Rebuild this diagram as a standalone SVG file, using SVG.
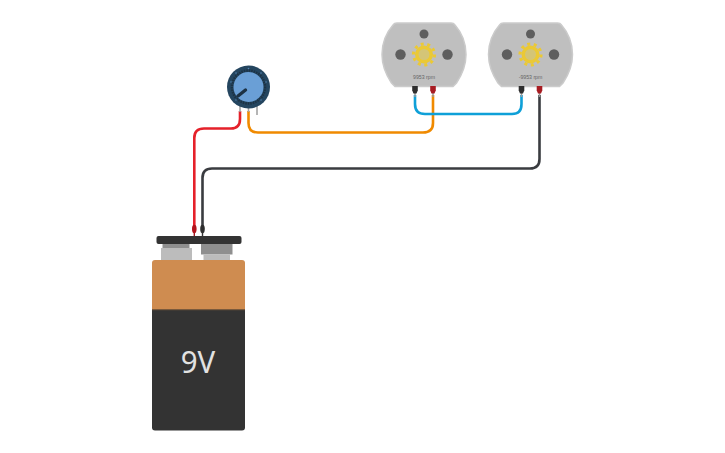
<svg xmlns="http://www.w3.org/2000/svg" width="725" height="453" viewBox="0 0 725 453">
<defs>
<style>
.w{fill:none;stroke-width:2.600;stroke-linejoin:round}
.rpm{font-family:"Liberation Sans",Arial,sans-serif;font-size:5.200px;fill:#666;text-anchor:middle}
</style>
<g id="motorShape">
<path d="M15 1.500H69C71 1.500 72 2 73 3.500C79.500 11 84 21 84 33C84 45 79.500 54 74.500 61.500L71 65H13L9.500 61.500C4.500 54 0 45 0 33C0 21 4.500 11 11 3.500C12 2 13 1.500 15 1.500Z" fill="#bfbfbf" stroke="#cbcbcb" stroke-width="1.500"/>
<circle cx="42" cy="12.500" r="4.500" fill="#5e5e5e"/>
<circle cx="18.500" cy="33" r="5.200" fill="#5e5e5e"/>
<circle cx="65.500" cy="33" r="5.200" fill="#5e5e5e"/>
<circle cx="42" cy="33" r="9" fill="#ebc935"/>
<circle cx="42" cy="33" r="10.500" fill="none" stroke="#ebc935" stroke-width="3.200" stroke-dasharray="3 3.597" pathLength="65.970"/>
<circle cx="42" cy="33" r="5.500" fill="#d4c577"/>
</g>
<g id="pinB"><path d="M0 6V11" stroke="#9a9a9a" stroke-width="1.500"/><path d="M-2.800 0H2.800V4.500L1.500 7.500H-1.500L-2.800 4.500Z" fill="#2e2e2e"/></g>
<g id="pinR"><path d="M0 6V11" stroke="#9a9a9a" stroke-width="1.500"/><path d="M-2.800 0H2.800V4.500L1.500 7.500H-1.500L-2.800 4.500Z" fill="#a81c22"/></g>
</defs>
<rect width="725" height="453" fill="#fff"/>
<g id="connectors">
<path class="w" stroke="#e5212a" d="M240 111V119Q240 128.500 231 128.500H204Q194.300 128.500 194.300 138V226"/>
<path class="w" stroke="#f08a00" d="M248.500 111V123Q248.500 132.500 258 132.500H423Q433 132.500 433 123V95"/>
<path class="w" stroke="#0fa0d8" d="M415 95V104Q415 114 425 114H512Q521.500 114 521.500 104V95"/>
<path class="w" stroke="#3a3c40" d="M202.500 226V178Q202.500 168.500 212 168.500H530Q539.500 168.500 539.500 159V95"/>
</g>
<g id="motor1" transform="translate(382 21.500)">
<use href="#motorShape"/>
<text class="rpm" x="42" y="57">9953 rpm</text>
</g>
<g id="motor2" transform="translate(488.500 21.500)">
<use href="#motorShape"/>
<text class="rpm" x="42" y="57">-9953 rpm</text>
</g>
<g id="pins">
<use href="#pinB" x="415" y="86"/>
<use href="#pinR" x="433" y="86"/>
<use href="#pinB" x="521.500" y="86"/>
<use href="#pinR" x="539.500" y="86"/>
</g>
<g id="potentiometer">
<path d="M240 100V112M248.500 100V112M257 100V115" stroke="#a3a3a3" stroke-width="1.600" fill="none"/>
<circle cx="248.500" cy="87" r="21.500" fill="#24455f"/>
<circle cx="248.500" cy="87" r="16.500" fill="none" stroke="#1d3244" stroke-width="2.500" stroke-dasharray="1.500 1"/>
<circle cx="248.500" cy="87" r="15" fill="#6a9fd6"/>
<path d="M238 96L245.500 90" stroke="#1d3244" stroke-width="3.400" stroke-linecap="round"/>
<g fill="#6a9fd6" opacity=".7"><circle cx="248.500" cy="68.500" r=".8"/><circle cx="231" cy="82" r=".8"/><circle cx="266" cy="82" r=".8"/><circle cx="236" cy="73" r=".8"/><circle cx="261" cy="73" r=".8"/><circle cx="236" cy="100" r=".8"/><circle cx="261" cy="100" r=".8"/></g>
</g>
<g id="battery">
<rect x="162.500" y="243" width="27" height="6" fill="#8f8f8f"/>
<rect x="161" y="248" width="31" height="13" fill="#bcbcbc"/>
<rect x="201" y="243" width="31.500" height="11.500" fill="#8f8f8f"/>
<rect x="203.500" y="254.500" width="26.500" height="6.500" fill="#bcbcbc"/>
<path d="M194.300 232V237" stroke="#a01820" stroke-width="1.400"/>
<path d="M202.500 232V237" stroke="#333" stroke-width="1.400"/>
<rect x="156.500" y="236" width="85" height="8" rx="2" fill="#333"/>
<path d="M152 310V263Q152 260 155 260H242Q245 260 245 263V310Z" fill="#cf8c50"/>
<path d="M152 310H245V427.500Q245 430.500 242 430.500H155Q152 430.500 152 427.500Z" fill="#333"/>
<rect x="152" y="309" width="93" height="1.200" fill="#7a5a3c"/>
<text transform="translate(198 372.500) scale(.95 1)" font-family="'Noto Sans',sans-serif" font-size="31" fill="#e2e2e2" text-anchor="middle">9V</text>
<ellipse cx="194.300" cy="229" rx="2.300" ry="4.200" fill="#b3141c"/>
<ellipse cx="202.500" cy="229" rx="2.300" ry="4.200" fill="#2e2e2e"/>
</g>
</svg>
